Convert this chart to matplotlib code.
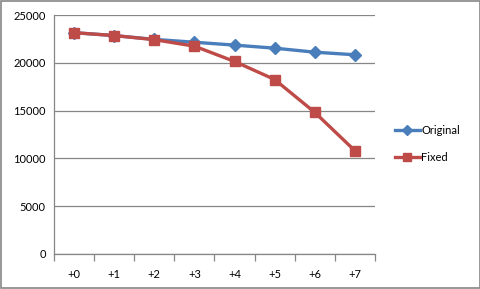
import matplotlib.pyplot as plt
from matplotlib.patches import Rectangle

# Data
categories = ['+0', '+1', '+2', '+3', '+4', '+5', '+6', '+7']
original = [23150, 22850, 22450, 22150, 21850, 21530, 21110, 20840]
fixed = [23150, 22850, 22420, 21740, 20140, 18250, 14810, 10800]
y_ticks = [0, 5000, 10000, 15000, 20000, 25000]

plt.rcParams['font.family'] = ['Lato', 'DejaVu Sans']

fig = plt.figure(figsize=(4.81, 2.89), dpi=100)
ax = fig.add_axes([54 / 481, 35 / 289, 321 / 481, 239 / 289])

x = list(range(len(categories)))
ax.plot(x, original, color='#4A7EBB', linewidth=2.4, marker='D', markersize=6,
        label='Original', zorder=3)
ax.plot(x, fixed, color='#BE4B48', linewidth=2.4, marker='s', markersize=7,
        label='Fixed', zorder=4)

ax.set_xlim(-0.5, len(categories) - 0.5)
ax.set_ylim(0, 25000)
ax.set_yticks(y_ticks)
ax.set_yticklabels([str(v) for v in y_ticks], fontsize=8)
ax.yaxis.grid(True, color='#868686', linewidth=0.9)
ax.set_axisbelow(True)
ax.tick_params(axis='y', length=0, pad=6)

ax.set_xticks(x)
ax.set_xticklabels(categories, fontsize=8)
ax.tick_params(axis='x', length=0, pad=11)
ax.set_xticks([i - 0.5 for i in range(len(categories) + 1)], minor=True)
ax.tick_params(axis='x', which='minor', length=5, color='#868686', width=0.9)

for side in ['top', 'right']:
    ax.spines[side].set_visible(False)
for side in ['left', 'bottom']:
    ax.spines[side].set_color('#868686')
    ax.spines[side].set_linewidth(0.9)

ax.legend(loc='center left', bbox_to_anchor=(1.03, 0.46), frameon=False,
          fontsize=8, handlelength=2.3, handletextpad=0.1, labelspacing=1.4,
          markerscale=0.85)

# outer chart border
fig.patches.append(Rectangle((0.002, 0.003), 0.996, 0.994, transform=fig.transFigure,
                             fill=False, edgecolor='#868686', linewidth=1.2))

fig.savefig('out.png', dpi=100)
